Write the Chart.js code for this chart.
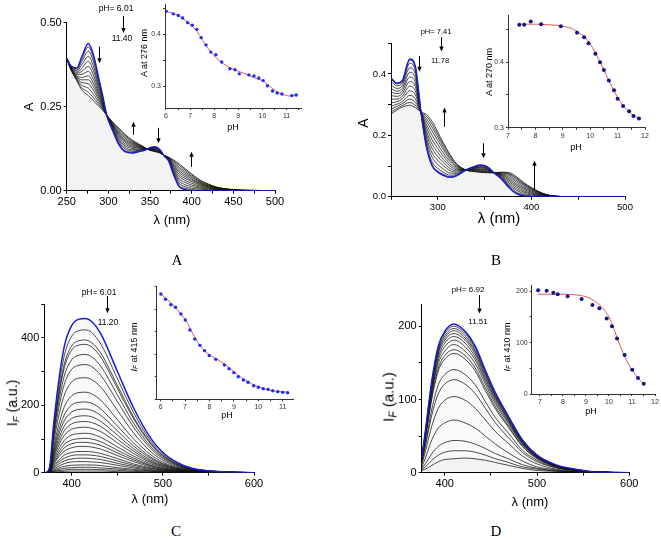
<!DOCTYPE html>
<html><head><meta charset="utf-8">
<script src="https://cdn.jsdelivr.net/npm/chart.js@4.4.1/dist/chart.umd.min.js"></script>
<style>
body{margin:0;background:#fff;}
#wrap{position:relative;width:661px;height:539px;overflow:hidden;background:#fff;font-family:'Liberation Sans',Arial,sans-serif;}
canvas{position:absolute;}
.t{position:absolute;transform:translate(-50%,-50%);white-space:nowrap;color:#000;line-height:1;}
.r{transform:translate(-50%,-50%) rotate(-90deg);}
.s{font-family:'Liberation Serif','Times New Roman',serif;}
sub{font-size:70%;vertical-align:-0.25em;line-height:0;}
</style></head><body><div id="wrap">
<canvas id="mA"></canvas><canvas id="mB"></canvas><canvas id="mC"></canvas><canvas id="mD"></canvas>
<canvas id="iA"></canvas><canvas id="iB"></canvas><canvas id="iC"></canvas><canvas id="iD"></canvas>

<div class="t r" style="left:28px;top:107px;font-size:13px">A</div>
<div class="t" style="left:172px;top:219px;font-size:13px">λ (nm)</div>
<div class="t r" style="left:363px;top:123px;font-size:14px">A</div>
<div class="t" style="left:499px;top:217px;font-size:15px">λ (nm)</div>
<div class="t r" style="left:12px;top:403px;font-size:14px">I<sub><i>F</i></sub> (a.u.)</div>
<div class="t" style="left:150px;top:498px;font-size:13px">λ (nm)</div>
<div class="t r" style="left:388px;top:397px;font-size:15px">I<sub><i>F</i></sub> (a.u.)</div>
<div class="t" style="left:530px;top:501px;font-size:13px">λ (nm)</div>

<div class="t r" style="left:144px;top:53px;font-size:9px">A at 276 nm</div>
<div class="t" style="left:233px;top:127px;font-size:9px">pH</div>
<div class="t r" style="left:489px;top:72px;font-size:9px">A at 270 nm</div>
<div class="t" style="left:576px;top:147px;font-size:9px">pH</div>
<div class="t r" style="left:134px;top:347px;font-size:9px"><i>I<sub>F</sub></i> at 415 nm</div>
<div class="t" style="left:227px;top:415px;font-size:9px">pH</div>
<div class="t r" style="left:507px;top:347px;font-size:9px"><i>I<sub>F</sub></i> at 410 nm</div>
<div class="t" style="left:591px;top:411px;font-size:9px">pH</div>

<div class="t" style="left:116px;top:8px;font-size:8.5px">pH= 6.01</div>
<div class="t" style="left:122px;top:38px;font-size:8.5px">11.40</div>
<div class="t" style="left:436px;top:32px;font-size:7.5px">pH= 7.41</div>
<div class="t" style="left:440px;top:61px;font-size:7.5px">11.78</div>
<div class="t" style="left:99px;top:292px;font-size:8.5px">pH= 6.01</div>
<div class="t" style="left:108px;top:322px;font-size:8.5px">11.20</div>
<div class="t" style="left:468px;top:290px;font-size:8px">pH= 6.92</div>
<div class="t" style="left:478px;top:322px;font-size:8px">11.51</div>

<div class="t s" style="left:177px;top:260px;font-size:15px">A</div>
<div class="t s" style="left:496px;top:260px;font-size:15px">B</div>
<div class="t s" style="left:176px;top:531px;font-size:15px">C</div>
<div class="t s" style="left:496px;top:531px;font-size:15px">D</div>
</div>
<script>
// ---------- DATA ----------
// Panel A: absorbance spectra, pH 6.01 -> 11.40
const lamA = [250,255,262,268,276,282,288,293,298,305,312,320,328,336,344,350,356,362,367,372,378,385,392,400,410,420,430,440,455,470,500];
const absA = [
 [.394,.372,.365,.398,.438,.405,.340,.285,.225,.180,.140,.116,.112,.116,.121,.128,.131,.122,.103,.090,.050,.012,.003,0,0,0,0,0,0,0,0],
 [.394,.371,.363,.392,.428,.396,.334,.282,.225,.182,.143,.119,.115,.118,.121,.127,.130,.121,.103,.091,.053,.016,.007,.003,.002,.001,.001,0,0,0,0],
 [.394,.370,.359,.384,.415,.385,.327,.278,.225,.184,.147,.124,.118,.120,.122,.127,.129,.121,.103,.091,.056,.022,.012,.007,.005,.003,.002,.001,0,0,0],
 [.394,.369,.356,.374,.400,.371,.318,.274,.225,.186,.152,.129,.122,.122,.123,.126,.127,.120,.103,.092,.060,.029,.018,.012,.008,.005,.003,.001,0,0,0],
 [.394,.368,.352,.364,.385,.358,.310,.270,.225,.189,.156,.134,.126,.124,.123,.125,.126,.119,.104,.093,.064,.035,.025,.017,.011,.007,.004,.002,.001,0,0],
 [.394,.367,.349,.355,.370,.345,.301,.265,.225,.191,.161,.139,.130,.127,.124,.124,.124,.118,.104,.094,.068,.042,.031,.022,.014,.009,.005,.003,.001,0,0],
 [.394,.366,.345,.346,.355,.332,.293,.261,.225,.193,.166,.144,.133,.129,.125,.124,.123,.117,.104,.095,.072,.048,.037,.027,.017,.011,.006,.003,.001,0,0],
 [.394,.365,.342,.337,.342,.320,.286,.257,.225,.195,.170,.148,.137,.131,.125,.123,.122,.116,.104,.096,.076,.054,.042,.031,.020,.012,.007,.004,.001,0,0],
 [.394,.364,.339,.330,.330,.310,.279,.254,.225,.197,.173,.152,.140,.133,.126,.122,.121,.115,.104,.097,.079,.059,.047,.035,.022,.014,.008,.004,.001,0,0],
 [.394,.363,.336,.322,.318,.299,.272,.250,.225,.199,.177,.156,.143,.135,.126,.122,.119,.114,.105,.098,.083,.065,.052,.039,.025,.015,.009,.005,.002,.001,0],
 [.394,.362,.333,.314,.305,.287,.265,.246,.225,.201,.181,.161,.146,.137,.127,.121,.118,.113,.105,.099,.086,.070,.057,.043,.027,.017,.009,.005,.002,.001,0],
 [.394,.361,.330,.306,.293,.277,.258,.243,.225,.203,.185,.165,.149,.138,.128,.121,.117,.113,.105,.099,.089,.076,.062,.047,.030,.019,.010,.006,.002,.001,0],
 [.394,.360,.328,.300,.283,.268,.252,.240,.225,.205,.188,.168,.152,.140,.128,.120,.116,.112,.105,.100,.092,.080,.066,.050,.032,.020,.011,.006,.002,.001,0]
];
const insetA_pH  = [6.01,6.30,6.51,6.69,6.90,7.09,7.28,7.46,7.66,7.86,8.07,8.31,8.65,8.86,9.04,9.44,9.65,9.85,10.03,10.21,10.42,10.61,10.81,11.22,11.40];
const insetA_abs = [0.445,0.440,0.437,0.432,0.423,0.418,0.410,0.394,0.380,0.366,0.361,0.347,0.334,0.332,0.324,0.322,0.320,0.316,0.311,0.301,0.291,0.287,0.285,0.282,0.283];
const fitA_pH  = [6.0,6.5,7.0,7.3,7.6,7.9,8.2,8.6,9.0,9.4,9.8,10.0,10.4,10.7,11.0,11.2,11.4];
const fitA_abs = [0.445,0.437,0.420,0.405,0.383,0.364,0.350,0.337,0.329,0.322,0.314,0.311,0.296,0.287,0.282,0.281,0.283];

// Panel B: absorbance spectra, pH 7.41 -> 11.78
const lamB = [250,256,262,270,276,282,288,294,300,306,313,320,330,338,346,353,360,368,376,384,392,400,408,416,425,440,500];
const absB = [
 [.387,.370,.378,.449,.425,.276,.160,.100,.080,.070,.063,.068,.087,.097,.103,.097,.078,.058,.030,.010,.002,0,0,0,0,0,0],
 [.384,.368,.376,.445,.421,.276,.163,.104,.083,.073,.065,.069,.087,.097,.102,.097,.078,.059,.031,.011,.003,.001,0,0,0,0,0],
 [.376,.362,.370,.435,.412,.276,.170,.113,.092,.080,.070,.072,.087,.096,.101,.095,.078,.060,.035,.015,.006,.003,.002,.001,0,0,0],
 [.365,.353,.362,.420,.399,.276,.181,.128,.105,.090,.077,.076,.087,.094,.098,.093,.078,.062,.039,.021,.010,.006,.003,.001,0,0,0],
 [.353,.344,.353,.405,.386,.276,.191,.142,.118,.101,.085,.080,.087,.093,.096,.091,.078,.064,.044,.026,.015,.009,.005,.002,.001,0,0],
 [.341,.336,.344,.390,.372,.276,.202,.157,.131,.111,.092,.084,.087,.091,.094,.090,.078,.067,.049,.032,.019,.012,.007,.003,.001,0,0],
 [.330,.327,.336,.375,.359,.276,.213,.171,.144,.121,.100,.088,.087,.090,.091,.088,.078,.069,.054,.037,.024,.015,.008,.003,.001,0,0],
 [.318,.318,.327,.360,.345,.276,.224,.185,.157,.132,.107,.092,.087,.088,.089,.086,.078,.071,.059,.042,.028,.018,.010,.004,.001,0,0],
 [.306,.309,.319,.345,.332,.276,.234,.200,.170,.142,.115,.096,.087,.087,.086,.084,.078,.073,.064,.048,.032,.021,.012,.005,.001,0,0],
 [.295,.301,.310,.330,.319,.276,.245,.214,.183,.153,.122,.100,.087,.085,.084,.082,.078,.075,.069,.053,.037,.024,.013,.006,.002,0,0],
 [.285,.294,.303,.318,.308,.276,.254,.226,.194,.161,.128,.103,.087,.084,.082,.081,.078,.077,.073,.058,.040,.026,.015,.006,.002,0,0],
 [.277,.287,.297,.307,.298,.276,.262,.236,.203,.169,.134,.106,.087,.083,.080,.079,.078,.079,.076,.062,.043,.028,.016,.007,.002,0,0],
 [.270,.282,.292,.298,.290,.276,.268,.245,.211,.175,.138,.108,.087,.082,.079,.078,.078,.080,.079,.065,.046,.030,.017,.007,.002,0,0]
];
const insetB_pH  = [7.41,7.59,7.83,8.21,8.93,9.52,9.78,9.94,10.19,10.36,10.50,10.68,10.87,11.00,11.20,11.42,11.58,11.78];
const insetB_abs = [0.457,0.457,0.462,0.458,0.455,0.445,0.438,0.429,0.413,0.400,0.388,0.372,0.357,0.344,0.333,0.325,0.318,0.314];
const fitB_pH  = [7.4,8.0,8.5,9.0,9.4,9.8,10.0,10.2,10.4,10.6,10.8,11.0,11.2,11.4,11.6,11.78];
const fitB_abs = [0.458,0.458,0.457,0.455,0.450,0.438,0.428,0.413,0.397,0.379,0.362,0.346,0.334,0.325,0.318,0.314];

// Panel C: emission spectra, pH 6.01 -> 11.20
const lamC = [372,376,380,385,392,400,408,415,422,432,450,468,487,500,514,532,550,575,600];
const fluC = [
 [0,18,137,256,376,437,456,458,449,412,302,192,101,60,33,13,6,2,0],
 [0,17,127,237,348,405,422,424,416,382,280,178,93,55,31,12,6,2,0],
 [0,16,118,221,323,376,392,394,386,355,260,165,87,51,28,11,5,2,0],
 [0,15,114,213,312,364,379,381,373,343,251,160,84,50,27,11,5,2,0],
 [0,14,105,197,288,335,349,351,344,316,232,147,77,46,25,10,5,1,0],
 [0,13,96,180,263,307,319,321,315,289,212,135,71,42,23,9,4,1,0],
 [0,11,85,158,231,269,281,282,276,254,186,118,62,37,20,8,4,1,0],
 [0,10,72,134,196,228,238,239,234,215,158,100,53,31,17,7,3,1,0],
 [0,8,63,118,172,201,209,210,206,189,139,88,46,27,15,6,3,1,0],
 [0,8,57,106,155,180,188,189,185,170,125,79,42,25,14,5,2,1,0],
 [0,7,51,95,139,161,168,169,166,152,112,71,37,22,12,5,2,1,0],
 [0,6,46,85,125,145,151,152,149,137,100,64,33,20,11,4,2,1,0],
 [0,5,41,76,111,129,134,135,132,122,89,57,30,18,10,4,2,1,0],
 [0,5,35,66,96,112,116,117,115,105,77,49,26,15,8,3,2,0,0],
 [0,4,31,57,84,97,101,102,100,92,67,43,22,13,7,3,1,0,0],
 [0,4,27,50,74,86,90,90,88,81,59,38,20,12,6,3,1,0,0],
 [0,3,23,44,64,74,78,78,76,70,51,33,17,10,6,2,1,0,0],
 [0,3,19,35,52,60,63,63,62,57,42,26,14,8,5,2,1,0,0],
 [0,2,16,30,43,51,53,53,52,48,35,22,12,7,4,1,1,0,0],
 [0,2,13,24,35,41,43,43,42,39,28,18,9,6,3,1,1,0,0],
 [0,1,10,18,27,32,33,33,32,30,22,14,7,4,2,1,0,0,0],
 [0,1,7,13,19,22,23,23,23,21,15,10,5,3,2,1,0,0,0],
 [0,1,5,9,13,15,16,16,16,14,11,7,4,2,1,0,0,0,0],
 [0,0,3,6,8,10,10,10,10,9,7,4,2,1,1,0,0,0,0],
 [0,0,2,3,4,5,5,5,5,5,3,2,1,1,0,0,0,0,0]
];
const insetC_pH = [6.01,6.20,6.42,6.61,6.83,7.01,7.20,7.40,7.61,7.80,7.99,8.26,8.61,8.80,9.00,9.18,9.39,9.58,9.81,10.00,10.20,10.40,10.59,10.80,11.00,11.20];
const insetC_IF = [448,425,401,390,361,335,291,252,224,201,180,163,138,122,105,87,73,63,48,41,35,32,26,22,19,17];
const fitC_pH = [6.0,6.4,6.8,7.0,7.2,7.4,7.6,7.8,8.0,8.4,8.8,9.2,9.6,10.0,10.4,10.8,11.2];
const fitC_IF = [448,412,365,338,300,258,225,200,182,158,127,92,63,43,30,23,20];

// Panel D: emission spectra, pH 6.92 -> 11.51
const lamD = [375,379,386,393,400,410,422,433,444,455,469,484,500,520,545,563,600];
const fluD = [
 [20,57,126,173,193,203,193,173,140,109,77,45,24,11,4,1,0],
 [20,56,124,170,190,200,190,170,138,107,76,44,24,10,4,1,0],
 [20,55,122,167,187,197,187,167,136,105,75,43,23,10,4,1,0],
 [19,54,120,165,184,194,184,165,134,104,74,43,23,10,3,1,0],
 [19,53,118,162,181,190,181,162,131,102,72,42,22,10,3,1,0],
 [19,52,115,158,177,186,177,158,128,100,71,41,22,10,3,1,0],
 [18,51,112,154,172,181,172,154,125,97,69,40,21,9,3,1,0],
 [18,49,109,149,166,175,166,149,121,94,67,39,21,9,3,1,0],
 [17,47,104,143,160,168,160,143,116,90,64,37,20,9,3,1,0],
 [16,46,101,139,155,163,155,139,112,87,62,36,19,8,3,1,0],
 [14,39,87,120,134,141,134,120,97,75,54,31,17,7,3,1,0],
 [13,36,79,108,121,127,121,108,88,68,48,28,15,7,2,1,0],
 [10,29,64,88,99,104,99,88,72,56,40,23,12,5,2,1,0],
 [7,20,45,61,68,72,68,61,50,39,27,16,8,4,1,1,0],
 [5,12,26,36,41,44,43,39,33,26,19,11,6,3,1,0,0],
 [4,8,17,24,28,30,30,28,24,19,14,8,5,2,1,0,0],
 [3,5,10,15,18,19,20,19,17,14,10,6,3,2,1,0,0]
];
const insetD_pH = [6.92,7.29,7.58,7.77,8.20,8.81,9.28,9.58,9.90,10.13,10.35,10.68,11.01,11.26,11.51];
const insetD_IF = [202,201,197,194,190,185,173,167,147,132,108,76,47,31,20];
const fitD_pH = [6.9,7.5,8.0,8.5,9.0,9.5,9.8,10.0,10.2,10.5,10.7,11.0,11.3,11.55];
const fitD_IF = [194,194,194,193,189,177,163,150,128,92,71,47,29,19];

// ---------- DRAWING ----------
const FONT = "'Liberation Sans', Arial, sans-serif";
const arrowPlugin = {
  id: 'arrows',
  afterDraw(chart, args, opts) {
    const items = (opts && opts.items) || [];
    const ctx = chart.ctx, xs = chart.scales.x, ys = chart.scales.y;
    ctx.save(); ctx.strokeStyle = '#000'; ctx.fillStyle = '#000'; ctx.lineWidth = 1;
    for (const a of items) {
      const x = Math.round(xs.getPixelForValue(a.x)) + 0.5;
      const y1 = ys.getPixelForValue(a.from), y2 = ys.getPixelForValue(a.to);
      const d = Math.sign(y2 - y1), hl = 5, hw = 2.2;
      ctx.beginPath(); ctx.moveTo(x, y1); ctx.lineTo(x, y2 - d * hl); ctx.stroke();
      ctx.beginPath(); ctx.moveTo(x, y2); ctx.lineTo(x - hw, y2 - d * hl); ctx.lineTo(x + hw, y2 - d * hl); ctx.closePath(); ctx.fill();
    }
    ctx.restore();
  }
};
Chart.register(arrowPlugin);

function axis(min, max, step, fmt, size, tl, col) {
  return {
    type: 'linear', min, max,
    grid: { drawOnChartArea: false, drawTicks: true, tickLength: tl, color: col, lineWidth: 1 },
    border: { display: true, color: col, width: 1 },
    ticks: { stepSize: step, autoSkip: false, maxRotation: 0, minRotation: 0, includeBounds: false,
             padding: 2, color: col, font: { family: FONT, size }, callback: fmt }
  };
}
function build(id, box, area, xs, ys, datasets, arrows) {
  const c = document.getElementById(id);
  c.width = box.w; c.height = box.h;
  c.style.left = box.l + 'px'; c.style.top = box.t + 'px';
  c.style.width = box.w + 'px'; c.style.height = box.h + 'px';
  const zero = s => { s.paddingLeft = 0; s.paddingRight = 0; s.paddingTop = 0; s.paddingBottom = 0; };
  xs.position = 'bottom'; ys.position = 'left';
  xs.afterFit = s => { s.height = box.t + box.h - area.b; zero(s); };
  ys.afterFit = s => { s.width = area.l - box.l; zero(s); };
  new Chart(c, {
    type: 'line',
    data: { datasets },
    options: {
      responsive: false, animation: false, devicePixelRatio: 1, events: [],
      layout: { padding: { left: 0, bottom: 0, top: area.t - box.t, right: box.l + box.w - area.r } },
      scales: { x: xs, y: ys },
      plugins: { legend: { display: false }, tooltip: { enabled: false },
                 filler: { drawTime: 'beforeDatasetsDraw' }, arrows: { items: arrows || [] } }
    }
  });
}
function spectra(lams, rows) {
  return rows.map((row, i) => ({
    data: lams.map((l, j) => ({ x: l, y: row[j] })),
    borderColor: i === 0 ? '#1c1cd0' : '#111',
    borderWidth: i === 0 ? 1.5 : 0.75,
    pointRadius: 0,
    cubicInterpolationMode: 'monotone',
    fill: (i === 0 || i === rows.length - 1) ? 'origin' : false,
    backgroundColor: 'rgba(120,120,120,0.045)'
  }));
}
function inset(px, py, fx, fy, ptCol, rad) {
  return [
    { data: px.map((x, i) => ({ x, y: py[i] })), showLine: false, pointRadius: rad, pointStyle: 'circle',
      pointBackgroundColor: ptCol, pointBorderColor: ptCol, pointBorderWidth: 0, borderWidth: 0 },
    { data: fx.map((x, i) => ({ x, y: fy[i] })), borderColor: '#e05a5a', borderWidth: 1, pointRadius: 0,
      cubicInterpolationMode: 'monotone', fill: false }
  ];
}
const isInt = v => Math.abs(v - Math.round(v)) < 1e-6;
const every = (m, lim) => v => (isInt(v / m) && (lim === undefined || v <= lim)) ? String(Math.round(v)) : '';
const dec1 = v => isInt(v * 10) ? v.toFixed(1) : '';

// Main A
build('mA', { l: 0, t: 0, w: 300, h: 215 }, { l: 66.7, t: 22.7, r: 275, b: 190.7 },
  axis(250, 500, 25, every(50), 11, 3, '#000'),
  axis(0, 0.5, 0.25, v => v.toFixed(2), 11, 3, '#000'),
  spectra(lamA, absA),
  [{ x: 317.2, from: 0.52, to: 0.469 }, { x: 288.8, from: 0.4286, to: 0.379 }, { x: 330, from: 0.166, to: 0.205 },
   { x: 359.2, from: 0.187, to: 0.141 }, { x: 398.8, from: 0.071, to: 0.116 }]);
// Main B
build('mB', { l: 330, t: 0, w: 331, h: 215 }, { l: 391, t: 43.3, r: 625, b: 196.7 },
  axis(250, 500, 50, every(100), 9.5, 3, '#000'),
  axis(0, 0.5, 0.1, v => { const k = Math.round(v * 10); return (k % 2 === 0 && k <= 4) ? (k / 10).toFixed(1) : ''; }, 9.5, 3, '#000'),
  spectra(lamB, absB),
  [{ x: 303.4, from: 0.52, to: 0.473 }, { x: 279.6, from: 0.459, to: 0.407 }, { x: 307, from: 0.228, to: 0.291 },
   { x: 348, from: 0.174, to: 0.125 }, { x: 402.8, from: 0.024, to: 0.117 }]);
// Main C
build('mC', { l: 0, t: 270, w: 300, h: 225 }, { l: 44.3, t: 304.3, r: 254, b: 472.7 },
  axis(370, 600, 50, every(100), 11, 3, '#000'),
  axis(0, 500, 100, every(200, 400), 11, 3, '#000'),
  spectra(lamC, fluC),
  [{ x: 439.2, from: 524.6, to: 473.3 }]);
// Main D
build('mD', { l: 330, t: 270, w: 331, h: 225 }, { l: 421.7, t: 304.3, r: 629.3, b: 472.7 },
  axis(375, 600, 50, every(100), 11, 3, '#000'),
  axis(0, 230, 50, every(100, 200), 11, 3, '#000'),
  spectra(lamD, fluD),
  [{ x: 437.4, from: 242.6, to: 217.6 }]);

// Insets
build('iA', { l: 130, t: 0, w: 190, h: 125 }, { l: 165, t: 2, r: 301, b: 108 },
  axis(5.96, 11.6, 0.5, every(1), 7, 2, '#333'),
  axis(0.258, 0.459, 0.05, dec1, 7, 2, '#333'),
  inset(insetA_pH, insetA_abs, fitA_pH, fitA_abs, '#1a2cff', 1.7));
build('iB', { l: 470, t: 0, w: 191, h: 145 }, { l: 508, t: 15, r: 645, b: 127.7 },
  axis(7, 12, 0.5, every(1), 7, 2, '#333'),
  axis(0.3, 0.472, 0.05, dec1, 7, 2, '#333'),
  inset(insetB_pH, insetB_abs, fitB_pH, fitB_abs, '#14148a', 2));
build('iC', { l: 130, t: 275, w: 175, h: 135 }, { l: 156.7, t: 286.7, r: 293, b: 399.3 },
  axis(5.84, 11.42, 0.5, every(1), 7, 2, '#333'),
  axis(-11.4, 480, 100, every(200), 7, 2, '#333'),
  inset(insetC_pH, insetC_IF, fitC_pH, fitC_IF, '#1a2cff', 1.7));
build('iD', { l: 505, t: 275, w: 156, h: 130 }, { l: 531.7, t: 285, r: 655, b: 394 },
  axis(6.64, 12, 0.5, every(1), 7, 2, '#333'),
  axis(0, 212, 50, every(100), 7, 2, '#333'),
  inset(insetD_pH, insetD_IF, fitD_pH, fitD_IF, '#14148a', 2));
</script></body></html>
